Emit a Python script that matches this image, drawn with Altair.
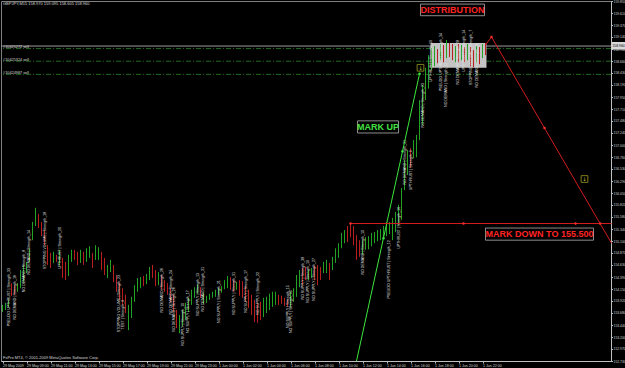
import json
import altair as alt
import pandas as pd

# ---------------- data ----------------
bar_high = [153.84, 153.88, 153.94, 154.27, 154.23, 154.27, 154.53, 154.63, 154.69, 154.96,
            155.48, 155.76, 155.64, 155.48, 155.32, 155.02, 154.87, 154.89, 154.83, 154.93,
            154.77, 154.69, 154.83, 154.93, 154.93, 154.89, 154.93, 154.89, 154.96, 155.00,
            154.87, 155.02, 154.98, 154.89, 154.77, 154.63, 154.73, 154.63, 154.43, 154.27,
            154.17, 154.04, 153.84, 154.00, 154.23, 154.37, 154.39, 154.41, 154.45, 154.59,
            154.63, 154.53, 154.49, 154.43, 154.33, 154.27, 154.17, 154.04, 153.74, 153.64,
            153.74, 153.88, 153.98, 154.14, 154.19, 154.25, 154.19, 154.08, 154.02, 154.06,
            154.10, 154.14, 154.17, 154.21, 154.33, 154.41, 154.39, 154.33, 154.29, 154.33,
            154.31, 154.21, 154.14, 154.04, 153.94, 153.88, 153.90, 153.98, 154.00, 154.06,
            154.10, 154.10, 154.04, 154.02, 153.98, 153.94, 154.10, 154.17, 154.43, 154.53,
            154.57, 154.59, 154.53, 154.57, 154.61, 154.63, 154.59, 154.69, 154.73, 154.67,
            154.79, 154.96, 155.06, 155.26, 155.32, 155.40, 155.46, 155.40, 155.22, 155.12,
            155.12, 155.18, 155.20, 155.26, 155.28, 155.32, 155.34, 155.40, 155.48, 155.48,
            155.56, 155.68, 155.82, 156.15, 156.71, 156.90, 156.94, 157.10, 157.20, 157.89,
            158.19, 158.53, 158.78, 158.92, 158.96, 158.90, 159.00, 158.98, 159.08, 159.02,
            159.00, 158.96, 159.00, 158.98, 158.94, 159.00, 158.94, 158.88, 158.96, 158.94,
            159.00, 159.02]
bar_low = [153.70, 153.74, 153.80, 154.02, 154.04, 154.10, 154.17, 154.29, 154.47, 154.69,
           155.12, 155.40, 155.36, 155.20, 155.02, 154.63, 154.57, 154.67, 154.69, 154.63,
           154.37, 154.33, 154.41, 154.69, 154.73, 154.63, 154.67, 154.63, 154.69, 154.77,
           154.57, 154.73, 154.73, 154.53, 154.43, 154.37, 154.49, 154.29, 154.10, 153.94,
           153.84, 153.68, 153.34, 153.58, 153.90, 154.10, 154.17, 154.21, 154.25, 154.33,
           154.37, 154.21, 154.23, 154.14, 154.10, 154.04, 153.90, 153.70, 153.38, 153.28,
           153.42, 153.54, 153.70, 153.84, 153.98, 154.06, 153.98, 153.86, 153.88, 153.94,
           153.98, 154.00, 154.04, 154.08, 154.15, 154.17, 154.14, 154.10, 154.14, 154.02,
           153.98, 153.90, 153.78, 153.64, 153.50, 153.48, 153.54, 153.60, 153.68, 153.74,
           153.80, 153.84, 153.84, 153.86, 153.82, 153.80, 153.80, 153.90, 154.00, 154.19,
           154.23, 154.33, 154.33, 154.37, 154.33, 154.23, 154.33, 154.47, 154.47, 154.33,
           154.53, 154.67, 154.77, 154.96, 155.06, 155.08, 155.18, 155.02, 154.73, 154.79,
           154.83, 154.93, 154.94, 155.00, 155.06, 155.10, 155.12, 155.16, 155.20, 155.24,
           155.12, 155.28, 155.42, 155.52, 156.11, 156.41, 156.55, 156.74, 156.76, 157.10,
           157.40, 157.89, 158.12, 158.48, 158.56, 158.62, 158.68, 158.64, 158.72, 158.74,
           158.68, 158.64, 158.64, 158.68, 158.64, 158.68, 158.56, 158.54, 158.64, 158.60,
           158.72, 158.78]
bar_dir = ("gggrrggggg" "ggrrrrrgrg" "rrggrrgrgg" "rggrrggrrr" "rrgggggrgg"
           "rrgrrrrrrg" "ggggggrggg" "ggggggrrgr" "rrrrrrrggg" "ggrrrrgggg"
           "rrggrrrggr" "gggggrrrrr" "gggggggggg" "ggggggrggg" "gggggrgrgr"
           "rgrgrgrrgr" "gr")

time_tick_idx = [0, 8, 16, 24, 32, 40, 48, 56, 64, 72, 80, 88, 96, 104, 112, 120, 128, 136, 144, 152, 160]
time_labels = ["29 May 2009", "29 May 09:00", "29 May 11:00", "29 May 13:00", "29 May 15:00",
               "29 May 17:00", "29 May 19:00", "29 May 21:00", "29 May 23:00", "1 Jun 00:00",
               "1 Jun 02:00", "1 Jun 04:00", "1 Jun 06:00", "1 Jun 08:00", "1 Jun 10:00",
               "1 Jun 12:00", "1 Jun 14:00", "1 Jun 16:00", "1 Jun 18:00", "1 Jun 20:00",
               "1 Jun 22:00"]
price_ticks = [152.73, 152.97, 153.20, 153.44, 153.68, 153.92, 154.15, 154.39, 154.63, 154.87,
               155.10, 155.34, 155.58, 155.82, 156.05, 156.29, 156.53, 156.76, 157.00, 157.24,
               157.48, 157.71, 157.95, 158.19, 158.43, 158.66, 158.90, 159.14, 159.37, 159.61,
               159.85]

bid_price = 158.96
order_prices = [158.91, 158.66, 158.40]
order_labels = ["#10425272 sell", "#10425324 sell", "#10424987 sell"]

green_line_idx = [118, 139]
green_line_price = [152.73, 158.41]
green_dot_idx = [127, 133.33, 139]
green_dot_price = [155.16, 156.88, 158.41]

red_trend_idx = [161, 163, 203]
red_trend_price = [158.98, 159.14, 155.06]
red_hline_idx = [116, 203]
red_hline_price = [155.45, 155.45]
red_dot_idx = [163, 180.67, 116, 153.67, 191, 199.2]
red_dot_price = [159.14, 157.34, 155.45, 155.45, 155.45, 155.45]

dist_box = {"i": [142.67], "i2": [161.33], "p": [159.02], "p2": [158.53]}

label_texts = ["DISTRIBUTION", "MARK UP", "MARK DOWN TO 155.500"]
label_colors = ["#ff2424", "#44e044", "#ff2424"]
label_idx = [150, 125.17, 179]
label_price = [159.675, 157.36, 155.24]
label_box_i1 = [139.33, 118.33, 161]
label_box_i2 = [160.67, 132, 197]
label_box_p1 = [159.79, 157.48, 155.36]
label_box_p2 = [159.56, 157.24, 155.12]

icon_idx = [139.33, 194]
icon_price = [158.53, 156.33]

vsa_idx = [2, 4.33, 7, 8.67, 14.33, 19.33, 38.67, 40, 53.33, 56, 57, 60, 61.67, 65, 66.67, 72, 77,
           81, 85, 95, 96.33, 100.33, 101.67, 103.67, 120, 128.67, 132, 134.33, 136.33, 140,
           142.67, 146, 147.67, 151.67, 153.67, 156, 158.33]
vsa_price = [154.57, 154.43, 154.93, 155.32, 155.68, 155.38, 154.43, 153.94, 154.57, 154.53, 154.19,
             153.88, 154.13, 154.47, 154.59, 154.33, 154.49, 154.53, 154.49, 154.23, 154.13,
             154.79, 154.73, 154.77, 155.32, 155.12, 155.78, 157.10, 156.90, 158.23, 159.08,
             159.22, 158.63, 159.08, 159.28, 159.28, 159.02]
vsa_text = ["PSEUDO UPTHRUST | Strength_33", "NO DEMAND | Strength_16", "NO DEMAND | Strength_8",
            "NO DEMAND | Strength_14", "STOPPING VOLUME | Strength_18", "UPTHRUST | Strength_20",
            "STOPPING VOLUME | Strength_23", "TEST | Strength_9", "NO DEMAND | Strength_26",
            "NO DEMAND | Strength_24", "NO DEMAND | Strength_26", "NO SUPPLY | Strength_10",
            "NO SUPPLY | Strength_17", "NO SUPPLY | Strength_13", "NO DEMAND | Strength_31",
            "NO SUPPLY | Strength_21", "NO SUPPLY | Strength_31", "NO SUPPLY | Strength_17",
            "NO SUPPLY | Strength_22", "NO SUPPLY | Strength_15", "NO SUPPLY | Strength_35",
            "NO SUPPLY | Strength_38", "NO SUPPLY | Strength_19", "NO SUPPLY | Strength_27",
            "NO DEMAND | Strength_10", "PSEUDO UPTHRUST | Strength_12", "UPTHRUST | Strength_16",
            "NO DEMAND | Strength_31", "UPTHRUST | Strength_9", "NO DEMAND | Strength_23",
            "UPTHRUST | Strength_19", "PSEUDO UPTHRUST | Strength_34", "NO DEMAND | Strength_11",
            "NO DEMAND | Strength_28", "UPTHRUST | Strength_14", "STOPPING VOLUME | Strength_7",
            "NO DEMAND | Strength_25"]

title_text = "GBPJPY,M15  158.970 159.095 158.605 158.960"
copyright_text = "FxPro MT4, \u00a9 2001-2009 MetaQuotes Software Corp."
bid_label = "158.960"

# ---------------- chart ----------------
FONT = "Liberation Sans"
xs = alt.Scale(domain=[-0.5, 202.833], nice=False, zero=False)
ys = alt.Scale(domain=[152.73, 159.851], nice=False, zero=False)
xaxis = alt.Axis(values=time_tick_idx,
                 labelExpr=json.dumps(time_labels) + "[round(datum.value/8)]",
                 labelAlign="left", labelFontSize=3.6, labelColor="#d0d0d0", labelFont=FONT,
                 labelPadding=0, tickSize=2, tickColor="#c0c0c0", domainColor="#c0c0c0",
                 grid=False, title=None, labelOverlap=False, labelFlush=False)
yaxis = alt.Axis(orient="right", values=price_ticks, format=".3f",
                 labelFontSize=3.4, labelColor="#d0d0d0", labelFont=FONT, labelPadding=0.5,
                 tickSize=1.5, tickColor="#c0c0c0", domainColor="#c0c0c0",
                 grid=False, title=None, labelOverlap=False, labelFlush=False)


def X(f="i"):
    return alt.X(f + ":Q", scale=xs, axis=xaxis)


def Y(f="p"):
    return alt.Y(f + ":Q", scale=ys, axis=yaxis)


bars = pd.DataFrame({"i": list(range(len(bar_high))), "high": bar_high, "low": bar_low,
                     "dir": ["up" if c == "g" else "down" for c in bar_dir]})

orders = pd.DataFrame({"p": order_prices, "t": order_labels, "i": [0.2] * 3})
order_rules = alt.Chart(orders).mark_rule(color="#1f6a1f", strokeWidth=1,
                                          strokeDash=[5, 2, 1, 2]).encode(y=Y())
order_text = alt.Chart(orders).mark_text(align="left", baseline="bottom", fontSize=3.8,
                                         color="#d8d8d8", font=FONT, dy=0.5).encode(
    x=X(), y=Y(), text="t:N")
bid_rule = alt.Chart(pd.DataFrame({"p": [bid_price]})).mark_rule(
    color="#9a9a9a", strokeWidth=1).encode(y=Y())

dist = alt.Chart(pd.DataFrame(dist_box)).mark_rect(color="#c4c4c4").encode(
    x=X(), x2="i2:Q", y=Y(), y2="p2:Q")

bar_layer = alt.Chart(bars).mark_rule(strokeWidth=1).encode(
    x=X(), y=Y("low"), y2="high:Q",
    color=alt.Color("dir:N", scale=alt.Scale(domain=["up", "down"], range=["#22a222", "#b81e1e"]),
                    legend=None))

vsa = pd.DataFrame({"i": vsa_idx, "p": vsa_price, "t": vsa_text})
vsa_layer = alt.Chart(vsa).mark_text(angle=270, align="right", baseline="middle", fontSize=3.6,
                                     color="#e6e6e6", font=FONT).encode(x=X(), y=Y(), text="t:N")

gline = alt.Chart(pd.DataFrame({"i": green_line_idx, "p": green_line_price})).mark_line(
    color="#3ce63c", strokeWidth=1).encode(x=X(), y=Y())
gdots = alt.Chart(pd.DataFrame({"i": green_dot_idx, "p": green_dot_price})).mark_circle(
    color="#3ce63c", size=6, opacity=1).encode(x=X(), y=Y())

rtrend = alt.Chart(pd.DataFrame({"i": red_trend_idx, "p": red_trend_price})).mark_line(
    color="#d21c1c", strokeWidth=1).encode(x=X(), y=Y())
rh = alt.Chart(pd.DataFrame({"i": red_hline_idx, "p": red_hline_price})).mark_line(
    color="#d21c1c", strokeWidth=1.2).encode(x=X(), y=Y())
rdots = alt.Chart(pd.DataFrame({"i": red_dot_idx, "p": red_dot_price})).mark_circle(
    color="#ff3030", size=6, opacity=1).encode(x=X(), y=Y())

boxes = pd.DataFrame({"i": label_box_i1, "i2": label_box_i2, "p": label_box_p1, "p2": label_box_p2})
box_layer = alt.Chart(boxes).mark_rect(fill="black", stroke="#8c8c8c", strokeWidth=1).encode(
    x=X(), x2="i2:Q", y=Y(), y2="p2:Q")
labs = pd.DataFrame({"i": label_idx, "p": label_price, "t": label_texts, "c": label_colors})
lab_layer = alt.Chart(labs).mark_text(fontSize=9, fontWeight="bold", font=FONT,
                                      baseline="middle", align="center").encode(
    x=X(), y=Y(), text="t:N", color=alt.Color("c:N", scale=None))

icons = pd.DataFrame({"i": icon_idx, "p": icon_price})
icon_box = alt.Chart(icons).mark_point(shape="square", size=45, filled=False,
                                       color="#b4b428", strokeWidth=1).encode(x=X(), y=Y())
icon_glyph = alt.Chart(icons).mark_text(text="\u2193", fontSize=5, color="#d0d040",
                                        font="DejaVu Sans").encode(x=X(), y=Y())

info = pd.DataFrame({"i": [0.17, 0.17], "p": [159.79, 152.79], "t": [title_text, copyright_text]})
info_layer = alt.Chart(info).mark_text(align="left", baseline="middle", fontSize=4,
                                       color="#d8d8d8", font=FONT).encode(x=X(), y=Y(), text="t:N")

bidbox = alt.Chart(pd.DataFrame({"i": [203.0], "i2": [207.9], "p": [159.04], "p2": [158.89]})).mark_rect(
    color="#d8d8d8").encode(x=X(), x2="i2:Q", y=Y(), y2="p2:Q")
bidtext = alt.Chart(pd.DataFrame({"i": [203.3], "p": [bid_price], "t": [bid_label]})).mark_text(
    align="left", baseline="middle", fontSize=3.4, color="black", font=FONT).encode(
    x=X(), y=Y(), text="t:N")

chart = alt.layer(
    order_rules, bid_rule, order_text, dist, bar_layer, vsa_layer, gline, gdots,
    rtrend, rh, rdots, box_layer, lab_layer, icon_box, icon_glyph, info_layer, bidbox, bidtext
).properties(
    width=610, height=360,
    padding={"left": 1, "top": 1, "right": 14, "bottom": 7},
    autosize=alt.AutoSizeParams(type="none"),
    background="black",
).configure_view(stroke="#808080", strokeWidth=1)

chart.save("out.html", embed_options={"renderer": "svg", "actions": False})
